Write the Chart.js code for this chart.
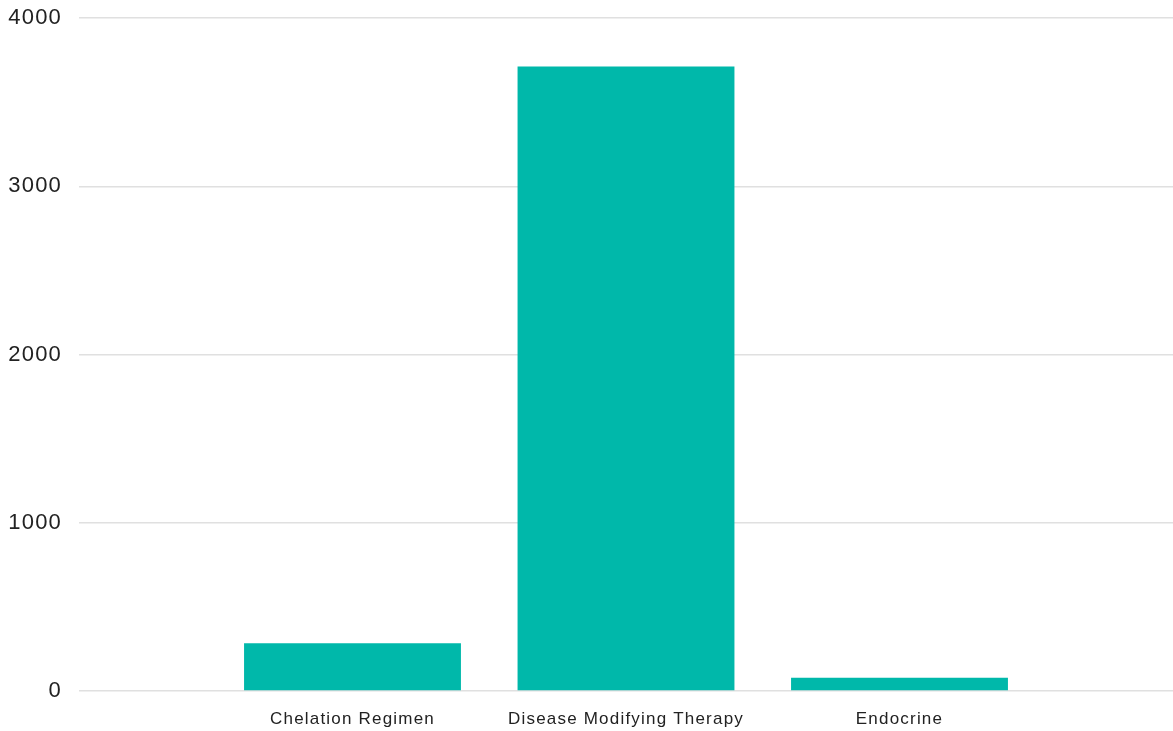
<!DOCTYPE html>
<html>
<head>
<meta charset="utf-8">
<script src="https://cdn.jsdelivr.net/npm/chart.js@4"></script>
<style>
    body { margin: 0; background: #fff; }
    #wrap { width: 1173px; height: 731px; }
</style>
</head>
<body>
<div id="wrap"><canvas id="therapyChart"></canvas></div>
<script>
const categories = ['Chelation Regimen', 'Disease Modifying Therapy', 'Endocrine'];
const counts = [284, 3711, 79];
const yTicks = [0, 1000, 2000, 3000, 4000];

// bars sit on a linear x scale so the plot keeps an empty slot on each side
const points = categories.map((c, i) => ({ x: i, y: counts[i] }));

// slightly wider text spacing for the axis labels
const spacing = {
    id: 'spacing',
    beforeUpdate: chart => { chart.ctx.letterSpacing = '1.2px'; },
    beforeDraw: chart => { chart.ctx.letterSpacing = '1.2px'; }
};

const ctx = document.getElementById('therapyChart').getContext('2d');
const myChart = new Chart(ctx, {
    type: 'bar',
    data: {
        datasets: [{
            data: points,
            backgroundColor: '#00b8aa',
            borderWidth: 0,
            barPercentage: 0.793,
            categoryPercentage: 1
        }]
    },
    plugins: [spacing],
    options: {
        responsive: true,
        maintainAspectRatio: false,
        animation: false,
        layout: { padding: { top: 18, right: 0, left: 0, bottom: 0 } },
        plugins: { legend: { display: false }, tooltip: { enabled: false } },
        scales: {
            x: {
                type: 'linear',
                offset: false,
                min: -1,
                max: 3,
                grid: { display: false },
                border: { display: false },
                afterFit: s => { s.height = 40; s.paddingLeft = 0; s.paddingRight = 0; },
                ticks: {
                    stepSize: 1,
                    autoSkip: false,
                    maxRotation: 0,
                    padding: 10,
                    color: '#222',
                    font: { family: 'Liberation Sans, Arial', size: 17 },
                    callback: v => categories[v] || ''
                }
            },
            y: {
                min: 0,
                max: 4000,
                afterBuildTicks: s => { s.ticks = yTicks.map(v => ({ value: v })); },
                afterFit: s => { s.width = 79; s.paddingTop = 0; s.paddingBottom = 0; },
                grid: { color: '#e0e0e0', drawTicks: false, lineWidth: 1.5 },
                border: { display: false },
                ticks: {
                    padding: 17,
                    color: '#222',
                    font: { family: 'Liberation Sans, Arial', size: 22 },
                    callback: v => String(v)
                }
            }
        }
    }
});
</script>
</body>
</html>
